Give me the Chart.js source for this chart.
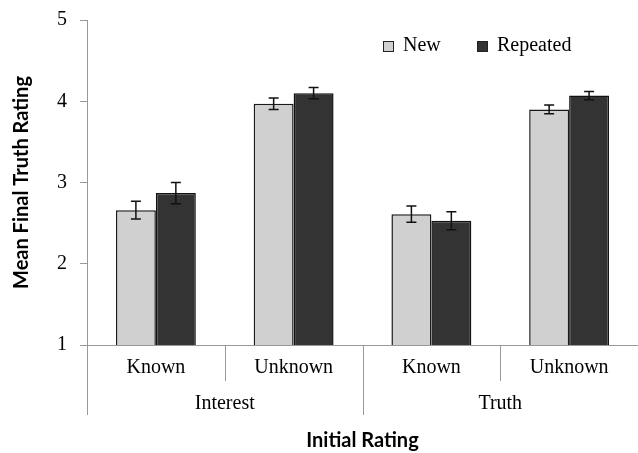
<!DOCTYPE html>
<html>
<head>
<meta charset="utf-8">
<script src="https://cdn.jsdelivr.net/npm/chart.js@4.4.0/dist/chart.umd.min.js"></script>
<style>
  html, body { margin: 0; padding: 0; background: #fff; }
  #wrap { width: 638px; height: 453px; }
</style>
</head>
<body>
<div id="wrap"><canvas id="truthChart"></canvas></div>
<script>
var conditions = ["Known", "Unknown", "Known", "Unknown"];
var groups = ["Interest", "Truth"];
var newMeans = [2.66, 3.97, 2.61, 3.90];
var newErrors = [0.11, 0.07, 0.10, 0.055];
var repeatedMeans = [2.87, 4.10, 2.53, 4.07];
var repeatedErrors = [0.13, 0.07, 0.11, 0.05];

const serif = "'Liberation Serif', 'Times New Roman', serif";
const sans = "Lato, 'Open Sans', sans-serif";

// error bars on top of each bar
const errorBars = {
  id: "errorBars",
  afterDatasetsDraw(chart) {
    const ctx = chart.ctx;
    const y = chart.scales.y;
    ctx.save();
    ctx.strokeStyle = "#111";
    ctx.lineWidth = 1.5;
    chart.data.datasets.forEach((ds, i) => {
      const meta = chart.getDatasetMeta(i);
      meta.data.forEach((bar, j) => {
        const top = y.getPixelForValue(ds.data[j] + ds.errors[j]);
        const bot = y.getPixelForValue(ds.data[j] - ds.errors[j]);
        ctx.beginPath();
        ctx.moveTo(bar.x, top); ctx.lineTo(bar.x, bot);
        ctx.moveTo(bar.x - 5, top); ctx.lineTo(bar.x + 5, top);
        ctx.moveTo(bar.x - 5, bot); ctx.lineTo(bar.x + 5, bot);
        ctx.stroke();
      });
    });
    ctx.restore();
  },
};

// dividers, group labels and legend
const decorations = {
  id: "decorations",
  afterDraw(chart) {
    const ctx = chart.ctx;
    const x = chart.scales.x;
    const area = chart.chartArea;
    const step = x.getPixelForValue(1) - x.getPixelForValue(0);
    ctx.save();
    ctx.strokeStyle = "#999";
    ctx.lineWidth = 1;
    for (let i = 0; i < conditions.length; i++) {
      const bx = Math.round(x.getPixelForValue(i) - step / 2) + 0.5;
      const len = i % 2 === 0 ? 70 : 36;
      ctx.beginPath();
      ctx.moveTo(bx, area.bottom);
      ctx.lineTo(bx, area.bottom + len);
      ctx.stroke();
    }
    ctx.fillStyle = "#000";
    ctx.font = "20px " + serif;
    ctx.textAlign = "center";
    ctx.textBaseline = "middle";
    groups.forEach((g, k) => {
      const cx = (x.getPixelForValue(2 * k) + x.getPixelForValue(2 * k + 1)) / 2;
      ctx.fillText(g, cx, area.bottom + 59);
    });

    // legend
    const items = [
      { label: "New", color: "#d0d0d0", x: area.left + 296 },
      { label: "Repeated", color: "#333", x: area.left + 390 },
    ];
    ctx.textAlign = "left";
    items.forEach((it) => {
      ctx.fillStyle = it.color;
      ctx.fillRect(it.x, 41, 10, 10);
      ctx.strokeStyle = "#222";
      ctx.strokeRect(it.x + 0.5, 41.5, 10, 10);
      ctx.fillStyle = "#000";
      ctx.fillText(it.label, it.x + 20, 46);
    });
    ctx.restore();
  },
};

const config_truth = {
  type: "bar",
  data: {
    labels: conditions,
    datasets: [
      {
        label: "New",
        data: newMeans,
        errors: newErrors,
        backgroundColor: "#d0d0d0",
        borderColor: "#1a1a1a",
        borderWidth: 1.5,
        categoryPercentage: 0.58,
        barPercentage: 1,
      },
      {
        label: "Repeated",
        data: repeatedMeans,
        errors: repeatedErrors,
        backgroundColor: "#333333",
        borderColor: "#111",
        borderWidth: 1.5,
        categoryPercentage: 0.58,
        barPercentage: 1,
      },
    ],
  },
  options: {
    responsive: true,
    maintainAspectRatio: false,
    animation: false,
    layout: { padding: { top: 20, right: 0, bottom: 0, left: 0 } },
    plugins: {
      legend: { display: false },
      tooltip: { enabled: false },
    },
    scales: {
      x: {
        afterFit: (scale) => { scale.height = 108; },
        grid: { display: false, drawTicks: false },
        border: { color: "#999", width: 1 },
        ticks: { color: "#000", font: { family: serif, size: 20 }, padding: 11 },
        title: {
          display: true,
          text: "Initial Rating",
          color: "#000",
          font: { family: sans, size: 20, weight: "bold" },
          padding: { top: 40, bottom: 0 },
        },
      },
      y: {
        afterFit: (scale) => {
          scale.width = 87;
          scale.paddingTop = 0;
          scale.paddingBottom = 0;
        },
        min: 1,
        max: 5,
        ticks: { stepSize: 1, color: "#000", font: { family: serif, size: 20 }, padding: 13 },
        grid: { drawOnChartArea: false, tickLength: 7, color: "#999" },
        border: { color: "#999", width: 1 },
        title: {
          display: true,
          text: "Mean Final Truth Rating",
          color: "#000",
          font: { family: sans, size: 20, weight: "bold" },
          padding: { top: 10, bottom: 10 },
        },
      },
    },
  },
  plugins: [errorBars, decorations],
};

const truthChart = new Chart(document.getElementById("truthChart"), config_truth);
</script>
</body>
</html>
